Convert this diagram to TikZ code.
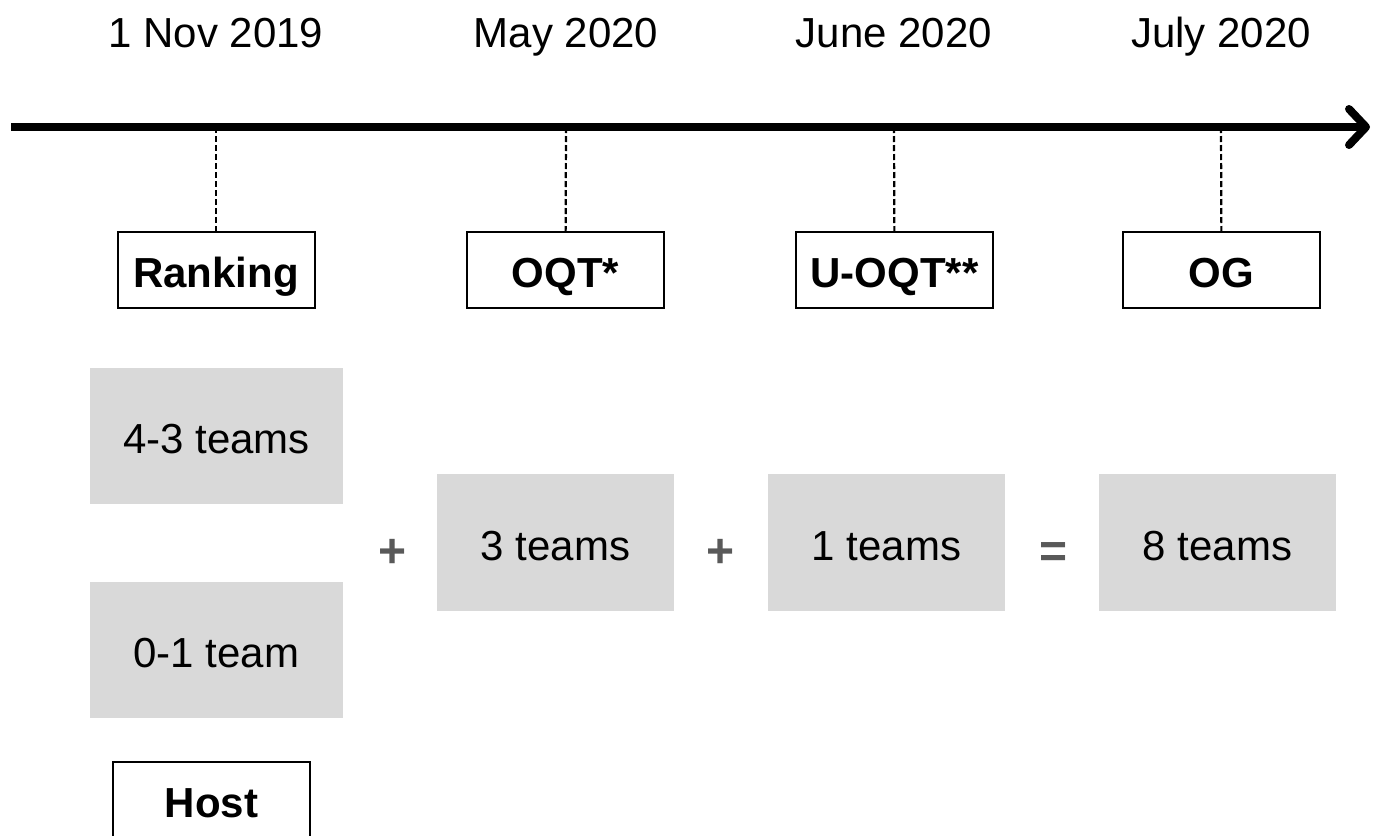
\documentclass[tikz,border=0pt]{standalone}
\usepackage{fontspec}
\setmainfont{Liberation Sans}
\usetikzlibrary{arrows.meta}
\definecolor{boxgray}{HTML}{D9D9D9}
\definecolor{opgray}{HTML}{595959}

\begin{document}
\begin{tikzpicture}[x=1pt,y=-1pt,
    every node/.style={font=\fontsize{42}{50}\selectfont,inner sep=0pt,
      text height=43pt,text depth=8pt},
    stage/.style={draw,line width=2pt,minimum width=197pt,minimum height=76pt,
      font=\fontsize{42}{50}\selectfont\bfseries},
    quota/.style={fill=boxgray,minimum width=237pt,minimum height=137pt},
    op/.style={text=opgray,font=\fontsize{48}{56}\selectfont\bfseries}]
  \useasboundingbox (0,0) rectangle (1378,835);

  % time axis
  \coordinate (start) at (11,127);
  \coordinate (end) at (1370,127);
  \coordinate (t1) at (216,127);
  \coordinate (t2) at (566,127);
  \coordinate (t3) at (894,127);
  \coordinate (t4) at (1221,127);
  \draw [line width=8pt,-{Straight Barb[length=17pt,width=36pt,line cap=round,line join=round]}]
    (start) -- (end);

  \node (d1) at (216,29.5) {1 Nov 2019};
  \node (d2) at (566,29.5) {May 2020};
  \node (d3) at (894,29.5) {June 2020};
  \node (d4) at (1221,29.5) {July 2020};

  \node [stage] (rank) at (216,270) {Ranking};
  \node [stage] (oqt) at (565.5,270) {OQT*};
  \node [stage] (uoqt) at (894.5,270) {U-OQT**};
  \node [stage] (og) at (1221.5,270) {OG};

  \foreach \t/\s in {t1/rank,t2/oqt,t3/uoqt,t4/og}
    \draw [dashed,line width=2.2pt,dash pattern=on 6pt off 3pt] (\t) -- (\s);

  % qualified teams
  \node [quota,minimum width=253pt,minimum height=136pt] (rankq) at (216.5,436) {4-3 teams};
  \node [quota,minimum width=253pt,minimum height=136pt] (hostq) at (216.5,650) {0-1 team};
  \node [stage] (host) at (211.5,799.5) {Host};

  \node [quota] (oqtq) at (555.5,542.5) {3 teams};
  \node [quota] (uoqtq) at (886.5,542.5) {1 teams};
  \node [quota] (ogq) at (1217.5,542.5) {8 teams};

  \node [op] (plus1) at (393,550) {+};
  \node [op] (plus2) at (721,550) {+};
  \node [op] (eq) at (1054,550) {=};
\end{tikzpicture}
\end{document}
